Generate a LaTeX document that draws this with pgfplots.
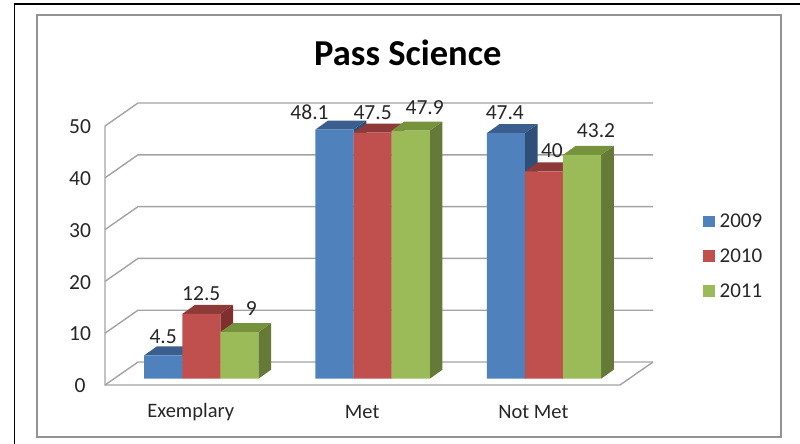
\documentclass[border=0pt]{standalone}
\usepackage{fontspec}
\setmainfont{Carlito}
\usepackage{pgfplots}
\usepackage{pgfplotstable}
\pgfplotsset{compat=1.18}

\definecolor{blue1}{HTML}{4F81BD}
\definecolor{blue2}{HTML}{3A5F8E}
\definecolor{blue3}{HTML}{2F4F78}
\definecolor{red1}{HTML}{C0504D}
\definecolor{red2}{HTML}{8E3A38}
\definecolor{red3}{HTML}{7F302E}
\definecolor{green1}{HTML}{9BBB59}
\definecolor{green2}{HTML}{76923C}
\definecolor{green3}{HTML}{667A38}
\definecolor{wall}{HTML}{A3A3A3}
\definecolor{txt}{HTML}{262626}

\pgfplotstableread{
x v
0 4.5
1 48.1
2 47.4
}\seriesA
\pgfplotstableread{
x v
0 12.5
1 47.5
2 40
}\seriesB
\pgfplotstableread{
x v
0 9
1 47.9
2 43.2
}\seriesC
% bar centre, value, text, offset of the text in pt
\pgfplotstableread{
x      v    t    dx  dy
-0.2224 4.5  4.5  0  19
0       12.5 12.5 0  20
0.2224  9    9    12 24
0.7776  48.1 48.1 -25 17.5
1       47.5 47.5 0  20
1.2224  47.9 47.9 14 23
1.7776  47.4 47.4 -1 20
2       40   40   8  21
2.2224  43.2 43.2 14 24
}\labeltab

% side and top face of one bar: centre, value, top colour, side colour
\newcommand{\depth}[4]{%
  \addplot[forget plot,fill=#4,draw=none] coordinates {(#1+0.1112,0) (#1+0.1853,1.74) (#1+0.1853,#2+1.74) (#1+0.1112,#2)};
  \addplot[forget plot,fill=#3,draw=none] coordinates {(#1-0.1112,#2) (#1+0.1112,#2) (#1+0.1853,#2+1.74) (#1-0.0371,#2+1.74)};
}
% one floor/back wall grid line
\newcommand{\gridl}[1]{%
  \addplot[forget plot,wall,line width=1.4pt] coordinates {(-0.5622,#1-1.216) (-0.3695,#1+3.22) (2.637,#1+3.22)};
}

\begin{document}
\begin{tikzpicture}[x=1pt,y=1pt]
\useasboundingbox (0,0) rectangle (800,444);
\draw[black,line width=1.5pt] (14.5,0) -- (14.5,440) -- (800,440);
\draw[wall!90!black,line width=1.8pt] (37,7) rectangle (781,429);
\begin{axis}[
    at={(105pt,59pt)},
    anchor=south west,
    scale only axis,
    width=515pt,
    height=265.3pt,
    clip=false,
    xmin=-0.5622, xmax=2.4442,
    ymin=-1.216, ymax=50,
    xtick={0,1,2},
    xticklabels={Exemplary,Met,Not Met},
    ytick={0,10,20,30,40,50},
    major tick length=0pt,
    axis line style={draw=none},
    /pgf/number format/assume math mode=true,
    yticklabel style={anchor=center,xshift=-25pt,yshift=-7pt,
      font=\fontsize{21.5}{21.5}\selectfont,text=txt},
    xticklabel style={anchor=center,xshift=-10.5pt,yshift=-27pt,
      font=\fontsize{20.5}{20.5}\selectfont,text=txt},
    title={Pass Science},
    title style={at={(0.588,1.2286)},anchor=center,text=black,
      font=\bfseries\fontsize{36.5}{36.5}\selectfont},
    legend style={at={(1.161,0.652)},anchor=north west,draw=none,fill=none,
      font=\fontsize{21}{21}\selectfont,text=txt,
      row sep=15.5pt,inner sep=0pt},
    legend cell align=left,
    legend image code/.code={\fill[#1] (0pt,-5.5pt) rectangle (11.5pt,6pt);
      \path (14.5pt,0pt);},
]
\gridl{0}\gridl{10}\gridl{20}\gridl{30}\gridl{40}\gridl{50}
\addplot[forget plot,wall,line width=1.4pt] coordinates {(-0.5622,48.784) (-0.5622,-1.216) (2.4442,-1.216) (2.637,3.22)};

\depth{-0.2224}{4.5}{blue2}{blue3}
\depth{0.7776}{48.1}{blue2}{blue3}
\depth{1.7776}{47.4}{blue2}{blue3}
\addplot[ybar,bar width=38.1pt,bar shift=-38.1pt,fill=blue1,draw=none] table[x=x,y=v] {\seriesA};
\depth{0}{12.5}{red2}{red3}
\depth{1}{47.5}{red2}{red3}
\depth{2}{40}{red2}{red3}
\addplot[ybar,bar width=38.1pt,bar shift=0pt,fill=red1,draw=none] table[x=x,y=v] {\seriesB};
\depth{0.2224}{9}{green2}{green3}
\depth{1.2224}{47.9}{green2}{green3}
\depth{2.2224}{43.2}{green2}{green3}
\addplot[ybar,bar width=38.1pt,bar shift=38.1pt,fill=green1,draw=none] table[x=x,y=v] {\seriesC};

\addplot[forget plot,draw=none,point meta=explicit symbolic,
    visualization depends on={\thisrow{dx} \as \ldx},
    visualization depends on={\thisrow{dy} \as \ldy},
    nodes near coords,
    nodes near coords style={anchor=center,shift={(\ldx pt,\ldy pt)},text=txt,
      font=\fontsize{21.5}{21.5}\selectfont},
] table[x=x,y=v,meta=t] {\labeltab};
\legend{2009,2010,2011}
\end{axis}
\end{tikzpicture}
\end{document}
